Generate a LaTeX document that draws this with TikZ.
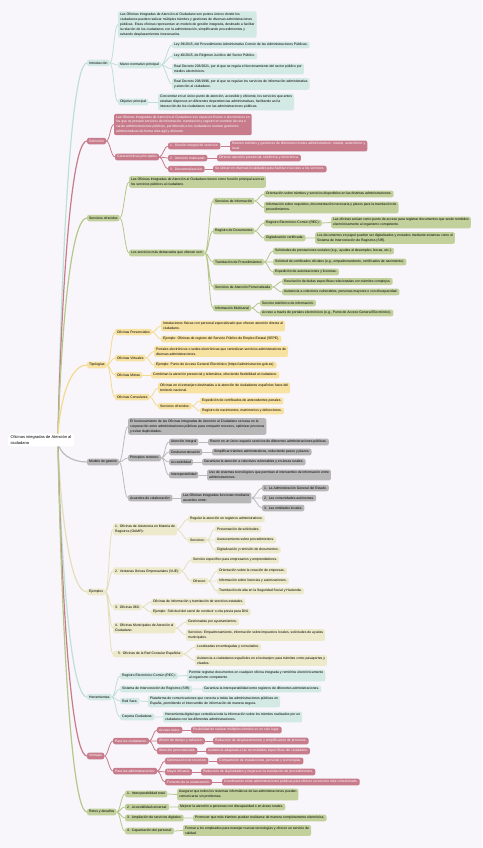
\documentclass[tikz,border=0pt]{standalone}
\usepackage{fontspec}
\setmainfont{Liberation Sans}
\usetikzlibrary{positioning,calc}

\definecolor{bgcol}{HTML}{F8F6FB}
\definecolor{tealfill}{HTML}{D3E9E3}
\definecolor{teallin}{HTML}{BFE0D7}
\definecolor{rosefill}{HTML}{C77B8B}
\definecolor{roselin}{HTML}{C77B8B}
\definecolor{greenfill}{HTML}{C2D19C}
\definecolor{greenlin}{HTML}{B5C78A}
\definecolor{yelfill}{HTML}{F7E2A2}
\definecolor{yellin}{HTML}{F3DA8E}
\definecolor{grayfill}{HTML}{B7B7B7}
\definecolor{graylin}{HTML}{BBBBBB}
\definecolor{beigefill}{HTML}{EDEACB}
\definecolor{beigelin}{HTML}{E3DFBB}

\begin{document}
\begin{tikzpicture}[x=2pt, y=-2pt,
    box/.style={anchor=west, rounded corners=4pt, inner xsep=4pt, inner ysep=3.5pt, minimum height=13pt, align=left, font=\fontsize{6.8}{9.8}\selectfont},
    tbox/.style={box, fill=tealfill},
    rbox/.style={box, fill=rosefill, text=white},
    gbox/.style={box, fill=greenfill},
    ybox/.style={box, fill=yelfill},
    kbox/.style={box, fill=grayfill},
    ebox/.style={box, fill=beigefill},
    link/.style={line width=1.6pt, to path={.. controls +(4,0) and +(-4,0) .. (\tikztotarget)}},
    trunk/.style={line width=2.4pt}]

        \fill[bgcol] (0,0) rectangle (482,848);
        \useasboundingbox (0,0) rectangle (482,848);

        % Introduccion
        \node[tbox] (intro) at (87,63) {Introducción};
        \node[tbox] (introtxt) at (118,24.5) {Las Oficinas Integradas de Atención al Ciudadano son puntos únicos donde los\\ciudadanos pueden realizar múltiples trámites y gestiones de diversas administraciones\\públicas. Estas oficinas representan un modelo de gestión integrada, destinado a facilitar\\la relación de los ciudadanos con la administración, simplificando procedimientos y\\evitando desplazamientos innecesarios.};
        \node[tbox] (marco) at (118,65) {Marco normativo principal};
        \node[tbox] (ley39) at (172,45) {Ley 39/2015, del Procedimiento Administrativo Común de las Administraciones Públicas.};
        \node[tbox] (ley40) at (172,56) {Ley 40/2015, de Régimen Jurídico del Sector Público.};
        \node[tbox] (rd203) at (172,69) {Real Decreto 203/2021, por el que se regula el funcionamiento del sector público por\\medios electrónicos.};
        \node[tbox] (rd208) at (172,84) {Real Decreto 208/1996, por el que se regulan los servicios de información administrativa\\y atención al ciudadano.};
        \node[tbox] (objetivo) at (118,102) {Objetivo principal};
        \node[tbox] (objtxt) at (158,102) {Concentrar en un único punto de atención, accesible y eficiente, los servicios que antes\\estaban dispersos en diferentes dependencias administrativas, facilitando así la\\interacción de los ciudadanos con las administraciones públicas.};

        % Definicion
        \node[rbox] (defi) at (87,141) {Definición};
        \node[rbox] (defitxt) at (114,124.5) {Las Oficinas Integradas de Atención al Ciudadano son espacios físicos o electrónicos en\\los que se prestan servicios de información, tramitación y registro en nombre de una o\\varias administraciones públicas, permitiendo a los ciudadanos realizar gestiones\\administrativas de forma más ágil y eficiente.};
        \node[rbox] (caract) at (115,157) {Características principales};
        \node[rbox] (car1) at (168,146) {1.\ \ Gestión integral de servicios:};
        \node[rbox] (car1t) at (230,146) {Reúnen trámites y gestiones de diferentes niveles administrativos: estatal, autonómico y\\local.};
        \node[rbox] (car2) at (168,158) {2.\ \ Atención multicanal:};
        \node[rbox] (car2t) at (217,158) {Ofrecen atención presencial, telefónica y electrónica.};
        \node[rbox] (car3) at (168,169) {3.\ \ Descentralización:};
        \node[rbox] (car3t) at (213,169) {Se ubican en diversas localidades para facilitar el acceso a los servicios.};

        % Servicios ofrecidos
        \node[gbox] (serv) at (87,218) {Servicios ofrecidos};
        \node[gbox] (servtxt) at (129,182) {Las Oficinas Integradas de Atención al Ciudadano tienen como función principal acercar\\los servicios públicos al ciudadano.};
        \node[gbox] (destac) at (129,253) {Los servicios más destacados que ofrecen son:};
        \node[gbox] (sinfo) at (213,201) {Servicios de Información};
        \node[gbox] (sinfo1) at (264,194) {Orientación sobre trámites y servicios disponibles en las distintas administraciones.};
        \node[gbox] (sinfo2) at (264,207.5) {Información sobre requisitos, documentación necesaria y plazos para la tramitación de\\procedimientos.};
        \node[gbox] (regdoc) at (213,231) {Registro de Documentos};
        \node[gbox] (rec) at (264,223) {Registro Electrónico Común (REC):};
        \node[gbox] (rect) at (331,222.5) {Las oficinas actúan como punto de acceso para registrar documentos que serán remitidos\\electrónicamente al organismo competente.};
        \node[gbox] (digit) at (264,238) {Digitalización certificada:};
        \node[gbox] (digitt) at (315,238) {Los documentos en papel pueden ser digitalizados y enviados mediante sistemas como el\\Sistema de Interconexión de Registros (SIR).};
        \node[gbox] (tramit) at (213,262) {Tramitación de Procedimientos};
        \node[gbox] (tram1) at (273,251) {Solicitudes de prestaciones sociales (e.g., ayudas al desempleo, becas, etc.).};
        \node[gbox] (tram2) at (273,262) {Solicitud de certificados oficiales (e.g., empadronamiento, certificados de nacimiento).};
        \node[gbox] (tram3) at (273,272) {Expedición de autorizaciones y licencias.};
        \node[gbox] (perso) at (213,287) {Servicios de Atención Personalizada};
        \node[gbox] (perso1) at (282,281.5) {Resolución de dudas específicas relacionadas con trámites complejos.};
        \node[gbox] (perso2) at (282,292) {Asistencia a colectivos vulnerables, personas mayores o con discapacidad.};
        \node[gbox] (multi) at (213,308) {Información Multicanal};
        \node[gbox] (multi1) at (260,303) {Servicio telefónico de información.};
        \node[gbox] (multi2) at (260,313) {Acceso a través de portales electrónicos (e.g., Punto de Acceso General Electrónico).};

        % Tipologias
        \node[ybox] (tipo) at (87,365) {Tipologías};
        \node[ybox] (presen) at (115,332) {Oficinas Presenciales};
        \node[ybox] (presen1) at (161,326) {Instalaciones físicas con personal especializado que ofrecen atención directa al\\ciudadano.};
        \node[ybox] (presen2) at (161,339) {Ejemplo: Oficinas de registro del Servicio Público de Empleo Estatal (SEPE).};
        \node[ybox] (virt) at (115,358) {Oficinas Virtuales};
        \node[ybox] (virt1) at (154,351.5) {Portales electrónicos o sedes electrónicas que centralizan servicios administrativos de\\diversas administraciones.};
        \node[ybox] (virt2) at (154,365) {Ejemplo: Punto de Acceso General Electrónico (https://administracion.gob.es).};
        \node[ybox] (mixta) at (115,375) {Oficinas Mixtas};
        \node[ybox] (mixta1) at (151,375) {Combinan la atención presencial y telemática, ofreciendo flexibilidad al ciudadano.};
        \node[ybox] (consu) at (115,397) {Oficinas Consulares};
        \node[ybox] (consu1) at (158,388) {Oficinas en el extranjero destinadas a la atención de ciudadanos españoles fuera del\\territorio nacional.};
        \node[ybox] (consu2) at (158,406) {Servicios ofrecidos:};
        \node[ybox] (consu21) at (200,401) {Expedición de certificados de antecedentes penales.};
        \node[ybox] (consu22) at (200,411) {Registro de nacimientos, matrimonios y defunciones.};

        % Modelo de gestion
        \node[kbox] (gest) at (87,462) {Modelo de gestión};
        \node[kbox] (gesttxt) at (128,426.5) {El funcionamiento de las Oficinas Integradas de Atención al Ciudadano se basa en la\\cooperación entre administraciones públicas para compartir recursos, optimizar procesos\\y evitar duplicidades.};
        \node[kbox] (princ) at (128,458) {Principios rectores:};
        \node[kbox] (pr1) at (169,442) {Atención integral};
        \node[kbox] (pr1t) at (208,442) {Reunir en un único espacio servicios de diferentes administraciones públicas.};
        \node[kbox] (pr2) at (169,452) {Desburocratización};
        \node[kbox] (pr2t) at (212,452) {Simplificar trámites administrativos, reduciendo pasos y plazos.};
        \node[kbox] (pr3) at (169,462) {Accesibilidad};
        \node[kbox] (pr3t) at (202,462) {Garantizar la atención a colectivos vulnerables y en áreas rurales.};
        \node[kbox] (pr4) at (169,475) {Interoperabilidad};
        \node[kbox] (pr4t) at (207,475) {Uso de sistemas tecnológicos que permitan el intercambio de información entre\\administraciones.};
        \node[kbox] (acuer) at (128,498) {Acuerdos de colaboración:};
        \node[kbox] (acuert) at (181,498) {Las Oficinas Integradas funcionan mediante\\acuerdos entre:};
        \node[kbox] (ac1) at (262,488) {1.\ \ La Administración General del Estado.};
        \node[kbox] (ac2) at (262,498) {2.\ \ Las comunidades autónomas.};
        \node[kbox] (ac3) at (262,508) {3.\ \ Las entidades locales.};

        % Ejemplos
        \node[ebox] (ejem) at (87,592) {Ejemplos};
        \node[ebox] (oamr) at (113,529.5) {1.\ \ Oficinas de Asistencia en Materia de\\Registros (OAMR):};
        \node[ebox] (oamr1) at (188,519) {Regular la atención en registros administrativos.};
        \node[ebox] (oamr2) at (188,540) {Servicios:};
        \node[ebox] (oamr21) at (215,529) {Presentación de solicitudes.};
        \node[ebox] (oamr22) at (215,540) {Asesoramiento sobre procedimientos.};
        \node[ebox] (oamr23) at (215,550) {Digitalización y remisión de documentos.};
        \node[ebox] (vue) at (113,571) {2.\ \ Ventanas Únicas Empresariales (VUE):};
        \node[ebox] (vue1) at (191,560) {Servicio específico para empresarios y emprendedores.};
        \node[ebox] (vue2) at (191,581) {Ofrecen:};
        \node[ebox] (vue21) at (217,571) {Orientación sobre la creación de empresas.};
        \node[ebox] (vue22) at (217,581) {Información sobre licencias y autorizaciones.};
        \node[ebox] (vue23) at (217,591) {Tramitación de alta en la Seguridad Social y Hacienda.};
        \node[ebox] (o060) at (113,607) {3.\ \ Oficinas 060:};
        \node[ebox] (o0601) at (151,602) {Oficinas de información y tramitación de servicios estatales.};
        \node[ebox] (o0602) at (151,612) {Ejemplo: Solicitud del carné de conducir o cita previa para DNI.};
        \node[ebox] (muni) at (113,628) {4.\ \ Oficinas Municipales de Atención al\\Ciudadano:};
        \node[ebox] (muni1) at (186,622) {Gestionadas por ayuntamientos.};
        \node[ebox] (muni2) at (186,635) {Servicios: Empadronamiento, información sobre impuestos locales, solicitudes de ayudas\\municipales.};
        \node[ebox] (cons) at (113,654) {\hspace{6pt}5.\ \ Oficinas de la Red Consular Española:};
        \node[ebox] (cons1) at (195,647) {Localizadas en embajadas y consulados.};
        \node[ebox] (cons2) at (195,660.5) {Asistencia a ciudadanos españoles en el extranjero para trámites como pasaportes y\\visados.};

        % Herramientas
        \node[tbox] (herr) at (87,697) {Herramientas};
        \node[tbox] (hrec) at (120,676) {Registro Electrónico Común (REC):};
        \node[tbox] (hrect) at (187,675.5) {Permite registrar documentos en cualquier oficina integrada y remitirlos electrónicamente\\al organismo competente.};
        \node[tbox] (hsir) at (120,689) {Sistema de Interconexión de Registros (SIR):};
        \node[tbox] (hsirt) at (202,689) {Garantiza la interoperabilidad entre registros de diferentes administraciones.};
        \node[tbox] (hsara) at (120,701) {Red Sara:};
        \node[tbox] (hsarat) at (148,701.5) {Plataforma de comunicaciones que conecta a todas las administraciones públicas en\\España, permitiendo el intercambio de información de manera segura.};
        \node[tbox] (hcarp) at (120,717) {Carpeta Ciudadana:};
        \node[tbox] (hcarpt) at (163,717) {Herramienta digital que centraliza toda la información sobre los trámites realizados por un\\ciudadano con las diferentes administraciones.};

        % Ventajas
        \node[rbox] (vent) at (87,756) {Ventajas};
        \node[rbox] (vciu) at (113,741) {Para los ciudadanos:};
        \node[rbox] (vc1) at (157,730) {Acceso único:};
        \node[rbox] (vc1t) at (191,730) {Posibilidad de realizar múltiples trámites en un solo lugar.};
        \node[rbox] (vc2) at (157,741) {Ahorro de tiempo y esfuerzo:};
        \node[rbox] (vc2t) at (213,741) {Reducción de desplazamientos y simplificación de procesos.};
        \node[rbox] (vc3) at (157,751) {Atención personalizada:};
        \node[rbox] (vc3t) at (206,751) {Asistencia adaptada a las necesidades específicas del ciudadano.};
        \node[rbox] (vadm) at (113,771) {Para las administraciones:};
        \node[rbox] (va1) at (165,761) {Optimización de recursos:};
        \node[rbox] (va1t) at (217,761) {Compartición de instalaciones, personal y tecnologías.};
        \node[rbox] (va2) at (165,772) {Mayor eficacia:};
        \node[rbox] (va2t) at (201,772) {Reducción de duplicidades y mejora en la tramitación de procedimientos.};
        \node[rbox] (va3) at (165,782) {Fomento de la colaboración:};
        \node[rbox] (va3t) at (222,782) {Coordinación entre administraciones públicas para ofrecer un servicio más cohesionado.};

        % Retos y desafios
        \node[gbox] (reto) at (87,812) {Retos y desafíos};
        \node[gbox] (re1) at (125,794) {1.\ \ Interoperabilidad total:};
        \node[gbox] (re1t) at (177,794.5) {Asegurar que todos los sistemas informáticos de las administraciones puedan\\comunicarse sin problemas.};
        \node[gbox] (re2) at (125,807) {2.\ \ Accesibilidad universal:};
        \node[gbox] (re2t) at (178,807) {Mejorar la atención a personas con discapacidad o en áreas rurales.};
        \node[gbox] (re3) at (125,818) {3.\ \ Ampliación de servicios digitales:};
        \node[gbox] (re3t) at (193,818) {Promover que más trámites puedan realizarse de manera completamente electrónica.};
        \node[gbox] (re4) at (125,831) {4.\ \ Capacitación del personal:};
        \node[gbox] (re4t) at (183,830.5) {Formar a los empleados para manejar nuevas tecnologías y ofrecer un servicio de\\calidad.};

        % Links from the root
        \coordinate (hub) at (58,440);
        \draw[trunk, teallin] (hub) .. controls +(0,-20) and +(-22,0) .. (intro.west);
        \draw[trunk, roselin] (hub) .. controls +(0,-20) and +(-22,0) .. (defi.west);
        \draw[trunk, greenlin] (hub) .. controls +(0,-20) and +(-22,0) .. (serv.west);
        \draw[trunk, yellin] (hub) .. controls +(0,-20) and +(-22,0) .. (tipo.west);
        \draw[trunk, graylin] (hub) .. controls +(0,14) and +(-15,0) .. (gest.west);
        \draw[trunk, beigelin] (hub) .. controls +(0,20) and +(-22,0) .. (ejem.west);
        \draw[trunk, teallin] (hub) .. controls +(0,20) and +(-22,0) .. (herr.west);
        \draw[trunk, roselin] (hub) .. controls +(0,20) and +(-22,0) .. (vent.west);
        \draw[trunk, greenlin] (hub) .. controls +(0,20) and +(-22,0) .. (reto.west);

        % Root
        \node[anchor=west, fill=white, rounded corners=4pt, inner xsep=5pt, inner ysep=4pt, align=left, font=\fontsize{8}{12}\selectfont] (root) at (8,440) {Oficinas integradas de Atención al\\ciudadano};

        % Links
        \draw[link, teallin] (intro.east) to (introtxt.west) (intro.east) to (marco.west) (intro.east) to (objetivo.west);
        \draw[link, teallin] (marco.east) to (ley39.west) (marco.east) to (ley40.west) (marco.east) to (rd203.west) (marco.east) to (rd208.west);
        \draw[link, teallin] (objetivo.east) to (objtxt.west);

        \draw[link, roselin] (defi.east) to (defitxt.west) (defi.east) to (caract.west);
        \draw[link, roselin] (caract.east) to (car1.west) (caract.east) to (car2.west) (caract.east) to (car3.west);
        \draw[link, roselin] (car1.east) to (car1t.west) (car2.east) to (car2t.west) (car3.east) to (car3t.west);

        \draw[link, greenlin] (serv.east) to (servtxt.west) (serv.east) to (destac.west);
        \draw[link, greenlin] (destac.east) to (sinfo.west) (destac.east) to (regdoc.west) (destac.east) to (tramit.west) (destac.east) to (perso.west) (destac.east) to (multi.west);
        \draw[link, greenlin] (sinfo.east) to (sinfo1.west) (sinfo.east) to (sinfo2.west);
        \draw[link, greenlin] (regdoc.east) to (rec.west) (regdoc.east) to (digit.west) (rec.east) to (rect.west) (digit.east) to (digitt.west);
        \draw[link, greenlin] (tramit.east) to (tram1.west) (tramit.east) to (tram2.west) (tramit.east) to (tram3.west);
        \draw[link, greenlin] (perso.east) to (perso1.west) (perso.east) to (perso2.west);
        \draw[link, greenlin] (multi.east) to (multi1.west) (multi.east) to (multi2.west);

        \draw[link, yellin] (tipo.east) to (presen.west) (tipo.east) to (virt.west) (tipo.east) to (mixta.west) (tipo.east) to (consu.west);
        \draw[link, yellin] (presen.east) to (presen1.west) (presen.east) to (presen2.west);
        \draw[link, yellin] (virt.east) to (virt1.west) (virt.east) to (virt2.west);
        \draw[link, yellin] (mixta.east) to (mixta1.west);
        \draw[link, yellin] (consu.east) to (consu1.west) (consu.east) to (consu2.west);
        \draw[link, yellin] (consu2.east) to (consu21.west) (consu2.east) to (consu22.west);

        \draw[link, graylin] (gest.east) to (gesttxt.west) (gest.east) to (princ.west) (gest.east) to (acuer.west);
        \draw[link, graylin] (princ.east) to (pr1.west) (princ.east) to (pr2.west) (princ.east) to (pr3.west) (princ.east) to (pr4.west);
        \draw[link, graylin] (pr1.east) to (pr1t.west) (pr2.east) to (pr2t.west) (pr3.east) to (pr3t.west) (pr4.east) to (pr4t.west);
        \draw[link, graylin] (acuer.east) to (acuert.west);
        \draw[link, graylin] (acuert.east) to (ac1.west) (acuert.east) to (ac2.west) (acuert.east) to (ac3.west);

        \draw[link, beigelin] (ejem.east) to (oamr.west) (ejem.east) to (vue.west) (ejem.east) to (o060.west) (ejem.east) to (muni.west) (ejem.east) to (cons.west);
        \draw[link, beigelin] (oamr.east) to (oamr1.west) (oamr.east) to (oamr2.west);
        \draw[link, beigelin] (oamr2.east) to (oamr21.west) (oamr2.east) to (oamr22.west) (oamr2.east) to (oamr23.west);
        \draw[link, beigelin] (vue.east) to (vue1.west) (vue.east) to (vue2.west);
        \draw[link, beigelin] (vue2.east) to (vue21.west) (vue2.east) to (vue22.west) (vue2.east) to (vue23.west);
        \draw[link, beigelin] (o060.east) to (o0601.west) (o060.east) to (o0602.west);
        \draw[link, beigelin] (muni.east) to (muni1.west) (muni.east) to (muni2.west);
        \draw[link, beigelin] (cons.east) to (cons1.west) (cons.east) to (cons2.west);

        \draw[link, teallin] (herr.east) to (hrec.west) (herr.east) to (hsir.west) (herr.east) to (hsara.west) (herr.east) to (hcarp.west);
        \draw[link, teallin] (hrec.east) to (hrect.west) (hsir.east) to (hsirt.west) (hsara.east) to (hsarat.west) (hcarp.east) to (hcarpt.west);

        \draw[link, roselin] (vent.east) to (vciu.west) (vent.east) to (vadm.west);
        \draw[link, roselin] (vciu.east) to (vc1.west) (vciu.east) to (vc2.west) (vciu.east) to (vc3.west);
        \draw[link, roselin] (vc1.east) to (vc1t.west) (vc2.east) to (vc2t.west) (vc3.east) to (vc3t.west);
        \draw[link, roselin] (vadm.east) to (va1.west) (vadm.east) to (va2.west) (vadm.east) to (va3.west);
        \draw[link, roselin] (va1.east) to (va1t.west) (va2.east) to (va2t.west) (va3.east) to (va3t.west);

        \draw[link, greenlin] (reto.east) to (re1.west) (reto.east) to (re2.west) (reto.east) to (re3.west) (reto.east) to (re4.west);
        \draw[link, greenlin] (re1.east) to (re1t.west) (re2.east) to (re2t.west) (re3.east) to (re3t.west) (re4.east) to (re4t.west);

    \end{tikzpicture}
\end{document}
